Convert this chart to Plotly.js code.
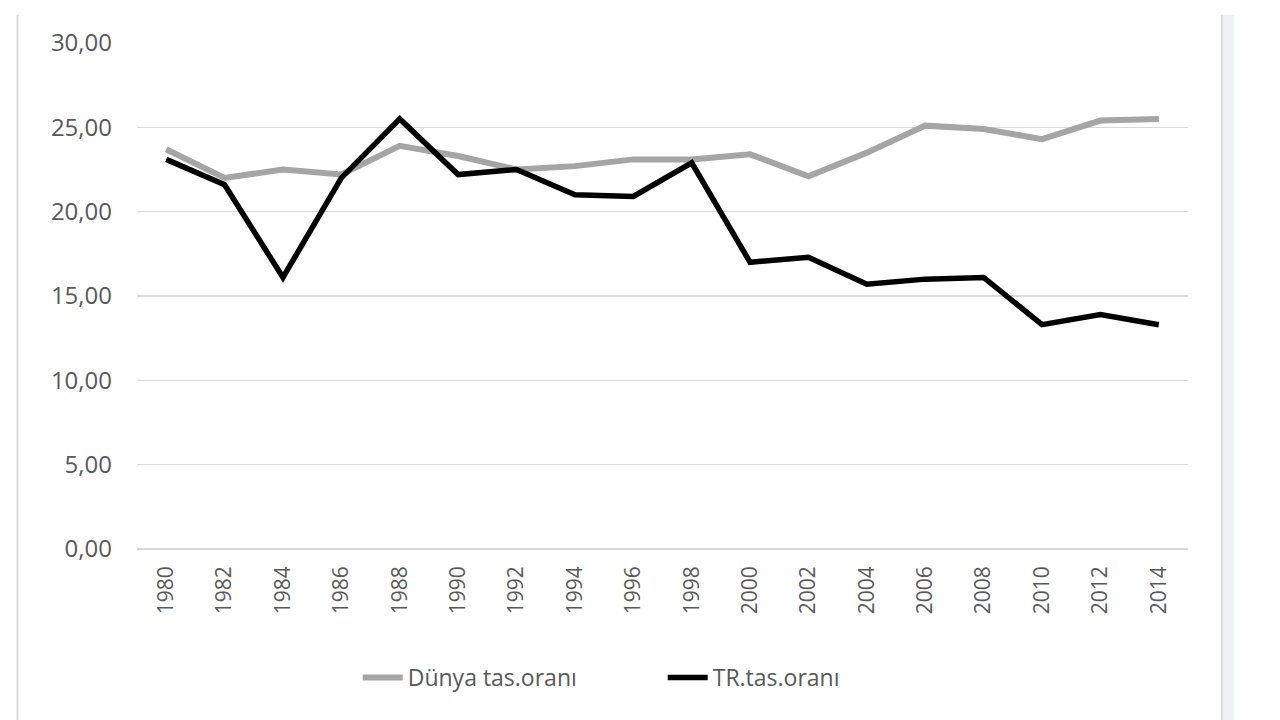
<!DOCTYPE html>
<html>
<head>
<meta charset="utf-8">
<script src="https://cdn.plot.ly/plotly-3.0.1.min.js"></script>
<style>html,body{margin:0;padding:0;background:#fff;}#chart{width:1280px;height:720px;}</style>
</head>
<body>
<div id="chart"></div>
<script>
const years = ["1980","1982","1984","1986","1988","1990","1992","1994","1996","1998","2000","2002","2004","2006","2008","2010","2012","2014"];
const dunya = [23.7,22.0,22.5,22.2,23.9,23.3,22.5,22.7,23.1,23.1,23.4,22.1,23.5,25.1,24.9,24.3,25.4,25.5];
const tr = [23.1,21.6,16.1,22.0,25.5,22.2,22.5,21.0,20.9,22.9,17.0,17.3,15.7,16.0,16.1,13.3,13.9,13.3];
const seriesNames = ["Dünya tas.oranı","TR.tas.oranı"];

const font = "'Open Sans', 'Noto Sans', sans-serif";
const traces = [
  {x: years, y: dunya, name: seriesNames[0], type: 'scatter', mode: 'lines',
   line: {color: '#a5a5a5', width: 6}},
  {x: years, y: tr, name: seriesNames[1], type: 'scatter', mode: 'lines',
   line: {color: '#000000', width: 5.5}}
];
const layout = {
  width: 1280, height: 720,
  paper_bgcolor: '#ffffff', plot_bgcolor: '#ffffff',
  separators: ',.',
  margin: {l: 137, r: 92, t: 43, b: 171},
  showlegend: true,
  legend: {orientation: 'h', x: 0.21, xanchor: 'left', y: 0.059, yanchor: 'middle',
           xref: 'paper', yref: 'container', itemwidth: 40,
           entrywidth: 250, entrywidthmode: 'pixels',
           font: {family: font, size: 23, color: '#595959'}, traceorder: 'normal'},
  xaxis: {type: 'category', range: [-0.5, 17.5], showgrid: false, zeroline: false,
          showline: false, ticks: '', tickangle: -90,
          tickfont: {family: font, size: 21, color: '#595959'}, ticklabelstandoff: 12},
  yaxis: {range: [0, 30], dtick: 5, tickformat: '.2f', showgrid: true, gridcolor: '#d9d9d9',
          gridwidth: 1.5, zeroline: true, zerolinecolor: '#d9d9d9', zerolinewidth: 1.5,
          showline: false, ticks: '',
          tickfont: {family: font, size: 24, color: '#595959'}, ticklabelstandoff: 24},
  shapes: [
    {type: 'line', xref: 'paper', yref: 'paper', x0: -0.1136, x1: -0.1136, y0: -0.35, y1: 1.056,
     line: {color: '#d9d9d9', width: 2}},
    {type: 'rect', xref: 'paper', yref: 'paper', x0: 1.0323, x1: 1.044, y0: -0.35, y1: 1.056,
     fillcolor: '#eef1f4', line: {width: 0}, layer: 'below'},
    {type: 'line', xref: 'paper', yref: 'paper', x0: 1.0323, x1: 1.0323, y0: -0.35, y1: 1.056,
     line: {color: '#dcdcdc', width: 2}}
  ]
};
Plotly.newPlot('chart', traces, layout, {displayModeBar: false, staticPlot: true});
</script>
</body>
</html>
